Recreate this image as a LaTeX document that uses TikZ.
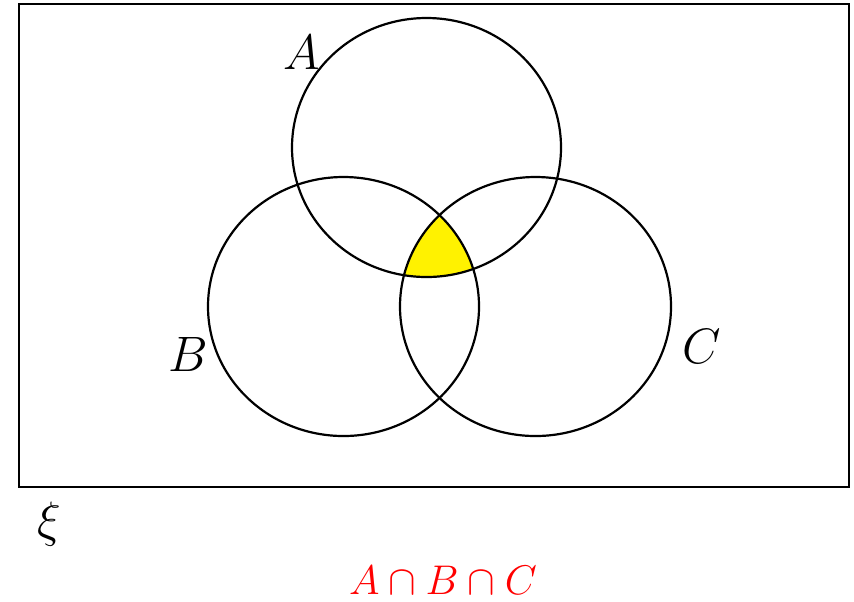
\documentclass[tikz,border=0pt]{standalone}
\begin{document}
\begin{tikzpicture}[x=0.5pt, y=-0.5pt]
    \useasboundingbox (0,0) rectangle (854,601);

    % yellow triple overlap
    \begin{scope}
        \clip (426.5,147.5) ellipse [x radius=134.5, y radius=129.5];
        \clip (343.5,306.5) ellipse [x radius=135.5, y radius=129.5];
        \fill[yellow] (535.5,306.5) ellipse [x radius=135.5, y radius=129.5];
    \end{scope}

    \draw[line width=1.4pt] (19,4) rectangle (849,487);

    \draw[line width=1.1pt] (426.5,147.5) ellipse [x radius=134.5, y radius=129.5];
    \draw[line width=1.1pt] (343.5,306.5) ellipse [x radius=135.5, y radius=129.5];
    \draw[line width=1.1pt] (535.5,306.5) ellipse [x radius=135.5, y radius=129.5];

    \node (labA) at (302,52) {\fontsize{29}{32}\selectfont$A$};
    \node (labB) at (188,354) {\fontsize{29}{32}\selectfont$B$};
    \node (labC) at (702,346) {\fontsize{29}{32}\selectfont$C$};
    \node (labXi) at (49,524) {\fontsize{31}{34}\selectfont$\xi$};
    \node[red] (result) at (443,580) {\fontsize{22}{25}\selectfont$A\cap B\cap C$};
\end{tikzpicture}
\end{document}
